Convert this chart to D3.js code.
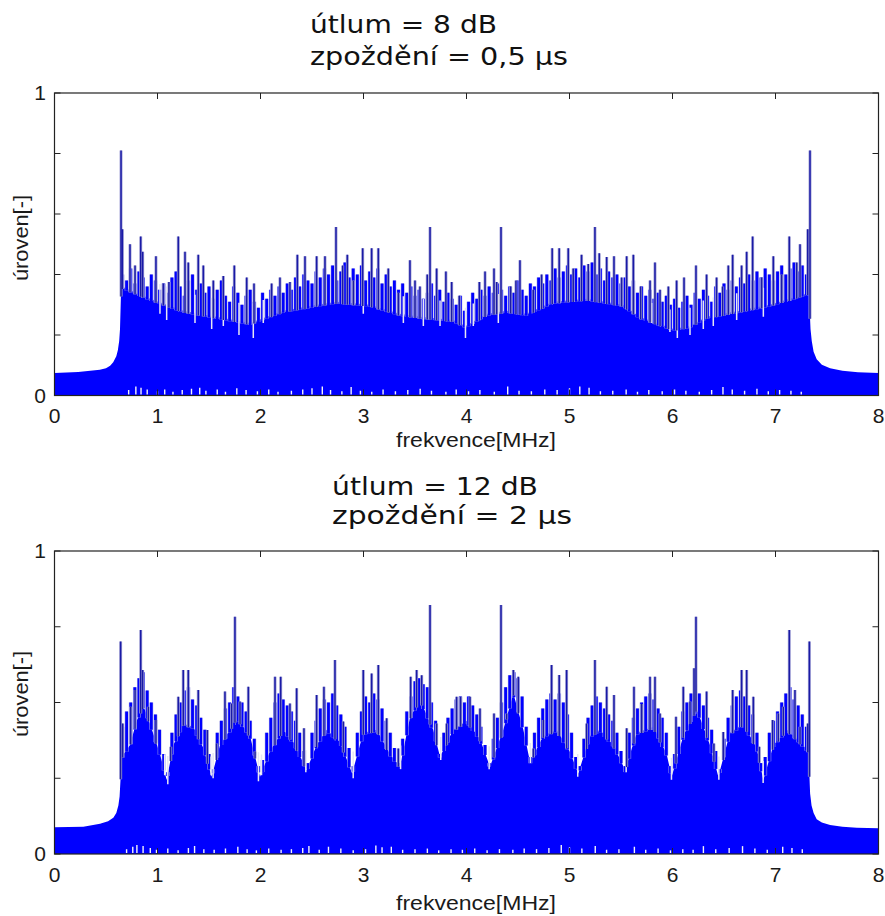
<!DOCTYPE html>
<html>
<head>
<meta charset="utf-8">
<script src="https://cdn.jsdelivr.net/npm/d3@7/dist/d3.min.js"></script>
<style>
  body { margin: 0; background: #fff; }
  svg { display: block; }
  .tl { font-family: "Liberation Sans", Arial, sans-serif; font-size: 21px; fill: #1a1a1a; }
  .lab { font-family: "Liberation Sans", Arial, sans-serif; font-size: 20px; fill: #1a1a1a; }
  .ttl { font-family: "DejaVu Sans", Verdana, sans-serif; font-size: 25px; fill: #111; }
</style>
</head>
<body>
<svg id="chart" width="885" height="916"></svg>
<script>
// ---- top panel: utlum 8 dB, zpozdeni 0.5 us ----
// lower (solid) level of the spectrum
var topEnvF = [0, 0.23, 0.44, 0.5, 0.54, 0.57, 0.6, 0.615, 0.628, 0.636, 0.645, 0.652, 0.93, 1.25, 1.57,
  1.9, 2.22, 2.55, 2.74, 3.06, 3.35, 3.55, 3.87, 3.99, 4.2, 4.39, 4.58, 4.84, 5.17, 5.52, 5.68,
  6.01, 6.17, 6.33, 6.65, 6.94, 7.14, 7.325, 7.34, 7.352, 7.37, 7.4, 7.45, 7.53, 7.65, 7.8, 8];
var topEnvV = [0.074, 0.078, 0.085, 0.09, 0.098, 0.11, 0.13, 0.15, 0.18, 0.22, 0.33, 0.36, 0.32, 0.28, 0.26,
  0.24, 0.28, 0.30, 0.31, 0.30, 0.27, 0.26, 0.25, 0.23, 0.27, 0.28, 0.27, 0.31, 0.32, 0.30, 0.26,
  0.22, 0.23, 0.26, 0.28, 0.30, 0.32, 0.34, 0.22, 0.18, 0.145, 0.12, 0.102, 0.09, 0.082, 0.077, 0.074];

// medium spectral lines, one per 0.04 MHz bin from 0.66 MHz
var topMidV = [0.40, 0.38, 0.42, 0.37, 0.41, 0.39, 0.36, 0.40, 0.38, 0.35,
  0.37, 0.34, 0.39, 0.41, 0.36, 0.33, 0.38, 0.40, 0.35, 0.37,
  0.34, 0.36, 0.32, 0.35, 0.38, 0.33, 0.31, 0.36, 0.34, 0.30,
  0.33, 0.35, 0.31, 0.29, 0.34, 0.32, 0.35, 0.33, 0.36, 0.34,
  0.37, 0.35, 0.39, 0.36, 0.40, 0.38, 0.37, 0.41, 0.39, 0.42,
  0.40, 0.43, 0.38, 0.41, 0.44, 0.39, 0.42, 0.40, 0.43, 0.38,
  0.41, 0.39, 0.42, 0.37, 0.40, 0.36, 0.38, 0.35, 0.37, 0.34,
  0.36, 0.33, 0.35, 0.32, 0.34, 0.37, 0.33, 0.35, 0.31, 0.34,
  0.32, 0.30, 0.33, 0.28, 0.31, 0.34, 0.32, 0.35, 0.33, 0.36,
  0.34, 0.37, 0.35, 0.33, 0.36, 0.34, 0.38, 0.35, 0.33, 0.37,
  0.36, 0.39, 0.37, 0.40, 0.38, 0.42, 0.39, 0.41, 0.43, 0.40,
  0.42, 0.39, 0.43, 0.41, 0.44, 0.40, 0.42, 0.38, 0.41, 0.39,
  0.40, 0.37, 0.39, 0.36, 0.38, 0.34, 0.36, 0.33, 0.35, 0.32,
  0.34, 0.31, 0.33, 0.30, 0.32, 0.29, 0.31, 0.33, 0.30, 0.34,
  0.32, 0.35, 0.33, 0.31, 0.36, 0.34, 0.37, 0.35, 0.38, 0.36,
  0.39, 0.37, 0.40, 0.38, 0.41, 0.39, 0.42, 0.40, 0.38, 0.41,
  0.43, 0.40, 0.42, 0.44, 0.41, 0.43, 0.40];

var topSpikeF = [0.646, 0.659, 0.733, 0.782, 0.837, 0.856, 0.985, 1.056, 1.111, 1.202, 1.267, 1.299,
  1.396, 1.445, 1.542, 1.639, 1.746, 1.866, 1.937, 2.108, 2.189, 2.286, 2.358, 2.432, 2.545, 2.626,
  2.733, 2.798, 2.843, 2.902, 2.992, 3.079, 3.144, 3.241, 3.338, 3.451, 3.5, 3.548, 3.619, 3.646,
  3.71, 3.8, 3.856, 3.93, 4.125, 4.18, 4.267, 4.293, 4.335, 4.429, 4.48, 4.519, 4.648, 4.729,
  4.832, 4.9, 4.988, 5.036, 5.117, 5.182, 5.247, 5.289, 5.361, 5.432, 5.506, 5.555, 5.62, 5.691,
  5.782, 5.83, 5.879, 5.96, 6.04, 6.112, 6.228, 6.331, 6.428, 6.487, 6.542, 6.584, 6.671, 6.72,
  6.778, 6.866, 6.979, 7.06, 7.134, 7.206, 7.238, 7.313, 7.335];
var topSpikeV = [0.81, 0.55, 0.50, 0.43, 0.526, 0.475, 0.46, 0.37, 0.375, 0.526, 0.475, 0.44,
  0.465, 0.43, 0.38, 0.395, 0.43, 0.39, 0.37, 0.37, 0.39, 0.375, 0.465, 0.46, 0.46, 0.46,
  0.557, 0.43, 0.465, 0.38, 0.487, 0.487, 0.487, 0.42, 0.34, 0.447, 0.38, 0.36, 0.40, 0.557,
  0.42, 0.41, 0.375, 0.33, 0.375, 0.41, 0.42, 0.375, 0.557, 0.36, 0.38, 0.447, 0.35, 0.40,
  0.487, 0.487, 0.487, 0.42, 0.465, 0.435, 0.557, 0.47, 0.458, 0.46, 0.39, 0.46, 0.465, 0.36,
  0.38, 0.44, 0.35, 0.36, 0.38, 0.39, 0.43, 0.40, 0.39, 0.36, 0.43, 0.465, 0.43, 0.475,
  0.526, 0.39, 0.46, 0.40, 0.526, 0.44, 0.50, 0.55, 0.81];

var topDipF = [1.024, 1.089, 1.364, 1.526, 1.639, 1.791, 1.93, 2.027, 2.998, 3.387, 3.581, 3.743,
  3.99, 4.066, 4.309, 5.798, 5.975, 6.047, 6.17, 6.299, 6.396, 6.623, 6.882];
var topDipV = [0.27, 0.25, 0.24, 0.22, 0.23, 0.2, 0.19, 0.24, 0.27, 0.24, 0.23, 0.23,
  0.19, 0.23, 0.24, 0.24, 0.21, 0.19, 0.2, 0.22, 0.23, 0.25, 0.26];

var topGapF = [0.72, 0.79, 0.84, 0.9, 1.0, 1.07, 1.15, 1.24, 1.33, 1.41, 1.47, 1.58, 1.66, 1.77, 1.86,
  1.97, 2.08, 2.17, 2.3, 2.41, 2.5, 2.6, 2.68, 2.79, 2.88, 2.97, 3.08, 3.19, 3.31, 3.43, 3.55,
  3.66, 3.8, 3.9, 4.02, 4.13, 4.27, 4.4, 4.51, 4.63, 4.76, 4.88, 5.0, 5.1, 5.19, 5.3, 5.42,
  5.55, 5.66, 5.77, 5.9, 6.02, 6.13, 6.26, 6.38, 6.49, 6.58, 6.7, 6.82, 6.93, 7.04, 7.15, 7.25];
var topGapV = [0.018, 0.03, 0.026, 0.02, 0.014, 0.02, 0.012, 0.018, 0.022, 0.026, 0.016, 0.02, 0.012,
  0.024, 0.018, 0.014, 0.02, 0.012, 0.016, 0.02, 0.024, 0.03, 0.018, 0.014, 0.028, 0.016, 0.012,
  0.02, 0.014, 0.018, 0.022, 0.016, 0.012, 0.02, 0.014, 0.018, 0.012, 0.03, 0.016, 0.014, 0.02,
  0.018, 0.024, 0.03, 0.026, 0.014, 0.016, 0.02, 0.012, 0.018, 0.014, 0.02, 0.016, 0.012, 0.018,
  0.028, 0.02, 0.016, 0.022, 0.014, 0.018, 0.016, 0.012];

// ---- bottom panel: utlum 12 dB, zpozdeni 2 us ----
var botEnvF = [0, 0.28, 0.442, 0.52, 0.571, 0.6, 0.62, 0.632, 0.64, 0.652, 0.733, 0.798, 0.862, 0.927,
  1.024, 1.089, 1.154, 1.25, 1.348, 1.445, 1.526, 1.607, 1.704, 1.769, 1.898, 1.995, 2.092, 2.222,
  2.32, 2.448, 2.545, 2.642, 2.772, 2.89, 2.998, 3.128, 3.257, 3.354, 3.451, 3.548, 3.677, 3.743,
  3.871, 4.0, 4.13, 4.228, 4.357, 4.455, 4.552, 4.617, 4.746, 4.875, 5.0, 5.085, 5.2, 5.296, 5.425,
  5.54, 5.652, 5.814, 5.943, 5.992, 6.105, 6.234, 6.364, 6.445, 6.558, 6.688, 6.817, 6.882, 6.98,
  7.11, 7.207, 7.32, 7.336, 7.35, 7.37, 7.4, 7.45, 7.53, 7.65, 7.79, 8];
var botEnvV = [0.088, 0.09, 0.1, 0.108, 0.12, 0.135, 0.16, 0.19, 0.24, 0.32, 0.36, 0.44, 0.49, 0.43,
  0.33, 0.244, 0.36, 0.43, 0.42, 0.35, 0.255, 0.36, 0.41, 0.45, 0.39, 0.255, 0.34, 0.41, 0.37, 0.277,
  0.36, 0.41, 0.37, 0.266, 0.40, 0.41, 0.33, 0.288, 0.45, 0.51, 0.41, 0.321, 0.41, 0.44, 0.38, 0.288,
  0.41, 0.53, 0.41, 0.304, 0.39, 0.41, 0.34, 0.266, 0.39, 0.41, 0.36, 0.277, 0.40, 0.42, 0.33, 0.255,
  0.39, 0.48, 0.36, 0.255, 0.40, 0.43, 0.35, 0.244, 0.36, 0.41, 0.38, 0.34, 0.2, 0.16, 0.135, 0.115,
  0.104, 0.096, 0.09, 0.087, 0.085];

var botMidV = [0.42, 0.47, 0.50, 0.55, 0.58, 0.60, 0.54, 0.50, 0.46, 0.41,
  0.33, 0.27, 0.40, 0.46, 0.50, 0.54, 0.55, 0.51, 0.49, 0.45,
  0.41, 0.33, 0.28, 0.40, 0.44, 0.48, 0.50, 0.55, 0.52, 0.50,
  0.47, 0.44, 0.38, 0.29, 0.31, 0.40, 0.45, 0.50, 0.53, 0.51,
  0.49, 0.47, 0.44, 0.40, 0.34, 0.30, 0.40, 0.44, 0.48, 0.51,
  0.50, 0.53, 0.49, 0.46, 0.42, 0.35, 0.29, 0.40, 0.47, 0.52,
  0.50, 0.53, 0.51, 0.48, 0.44, 0.40, 0.35, 0.30, 0.38, 0.47,
  0.52, 0.57, 0.58, 0.56, 0.55, 0.50, 0.44, 0.33, 0.40, 0.45,
  0.48, 0.51, 0.52, 0.50, 0.52, 0.49, 0.46, 0.42, 0.36, 0.30,
  0.38, 0.45, 0.50, 0.55, 0.59, 0.60, 0.58, 0.52, 0.42, 0.32,
  0.40, 0.45, 0.48, 0.51, 0.53, 0.51, 0.53, 0.50, 0.46, 0.40,
  0.32, 0.29, 0.38, 0.45, 0.49, 0.52, 0.50, 0.48, 0.46, 0.44,
  0.40, 0.34, 0.29, 0.40, 0.45, 0.48, 0.50, 0.52, 0.53, 0.51,
  0.48, 0.45, 0.40, 0.29, 0.33, 0.42, 0.47, 0.50, 0.53, 0.56,
  0.53, 0.49, 0.45, 0.41, 0.34, 0.28, 0.38, 0.45, 0.49, 0.52,
  0.54, 0.52, 0.49, 0.46, 0.40, 0.30, 0.32, 0.40, 0.44, 0.47,
  0.50, 0.53, 0.55, 0.51, 0.49, 0.46, 0.42];

var botSpikeF = [0.642, 0.662, 0.74, 0.782, 0.837, 0.856, 0.911, 0.985, 1.128, 1.202, 1.25, 1.299,
  1.396, 1.484, 1.574, 1.655, 1.72, 1.752, 1.801, 1.882, 1.947, 2.141, 2.196, 2.286, 2.351, 2.422,
  2.545, 2.616, 2.723, 2.804, 2.998, 3.079, 3.144, 3.225, 3.338, 3.458, 3.516, 3.565, 3.646, 3.71,
  3.807, 3.904, 3.943, 4.034, 4.131, 4.267, 4.335, 4.39, 4.455, 4.503, 4.649, 4.746, 4.826, 4.9,
  4.972, 5.166, 5.247, 5.361, 5.432, 5.555, 5.626, 5.701, 5.782, 5.83, 5.879, 6.034, 6.105, 6.17,
  6.209, 6.228, 6.331, 6.402, 6.493, 6.584, 6.671, 6.72, 6.785, 6.843, 6.972, 7.027, 7.076, 7.134,
  7.189, 7.238, 7.313, 7.329];
var botSpikeV = [0.701, 0.431, 0.486, 0.541, 0.739, 0.607, 0.486, 0.442, 0.354, 0.519, 0.607, 0.607,
  0.541, 0.409, 0.365, 0.536, 0.497, 0.783, 0.503, 0.552, 0.338, 0.585, 0.585, 0.497, 0.547, 0.415,
  0.525, 0.552, 0.64, 0.437, 0.607, 0.596, 0.624, 0.448, 0.348, 0.585, 0.607, 0.59, 0.822, 0.431,
  0.431, 0.519, 0.519, 0.519, 0.48, 0.464, 0.822, 0.464, 0.607, 0.585, 0.348, 0.442, 0.624, 0.591,
  0.607, 0.431, 0.64, 0.552, 0.525, 0.415, 0.552, 0.495, 0.585, 0.585, 0.464, 0.453, 0.552, 0.503,
  0.613, 0.783, 0.536, 0.365, 0.403, 0.541, 0.607, 0.607, 0.519, 0.354, 0.442, 0.464, 0.486, 0.739,
  0.541, 0.42, 0.431, 0.701];

var botDipF = [1.07, 1.1, 1.52, 1.54, 1.98, 2.01, 2.44, 2.9, 3.36, 3.75, 4.22, 4.62, 5.08, 5.55, 5.99, 6.45, 6.88];
var botDipV = [0.26, 0.23, 0.26, 0.25, 0.24, 0.26, 0.27, 0.25, 0.28, 0.31, 0.28, 0.3, 0.255, 0.27, 0.245, 0.245, 0.234];

var botGapF = [0.7, 0.76, 0.8, 0.86, 0.93, 0.99, 1.1, 1.2, 1.3, 1.36, 1.45, 1.55, 1.66, 1.78, 1.87,
  1.96, 2.08, 2.2, 2.3, 2.41, 2.47, 2.57, 2.66, 2.78, 2.9, 3.02, 3.12, 3.18, 3.27, 3.38, 3.5,
  3.62, 3.73, 3.85, 3.96, 4.08, 4.2, 4.32, 4.45, 4.56, 4.68, 4.8, 4.92, 5.0, 5.12, 5.25, 5.36,
  5.48, 5.63, 5.74, 5.86, 5.98, 6.1, 6.2, 6.3, 6.42, 6.55, 6.68, 6.8, 6.92, 7.07, 7.16, 7.26];
var botGapV = [0.016, 0.024, 0.03, 0.026, 0.02, 0.014, 0.018, 0.012, 0.02, 0.026, 0.016, 0.014, 0.018,
  0.024, 0.016, 0.012, 0.018, 0.014, 0.016, 0.02, 0.026, 0.014, 0.024, 0.018, 0.012, 0.016, 0.028,
  0.022, 0.024, 0.014, 0.016, 0.018, 0.012, 0.016, 0.014, 0.018, 0.012, 0.016, 0.014, 0.018, 0.016,
  0.02, 0.03, 0.022, 0.018, 0.026, 0.014, 0.016, 0.024, 0.014, 0.018, 0.012, 0.016, 0.014, 0.026,
  0.016, 0.02, 0.026, 0.018, 0.014, 0.024, 0.02, 0.016];

var midBins = d3.range(0.66, 7.32, 0.04);   // frequency bins of the medium lines
var xTicks = [0, 1, 2, 3, 4, 5, 6, 7, 8];
var topYTicks = [0, 0.2, 0.4, 0.6, 0.8, 1];
var botYTicks = [0, 0.25, 0.5, 0.75, 1];
var yTickLabels = [0, 1];

var panels = [
  { y0: 93, y1: 395.5, envF: topEnvF, envV: topEnvV, midV: topMidV, spF: topSpikeF, spV: topSpikeV,
    dipF: topDipF, dipV: topDipV, gapF: topGapF, gapV: topGapV, yTicks: topYTicks,
    title: ["útlum = 8 dB", "zpoždění = 0,5 µs"], titleW: [187, 258], titleX: 310, titleY: [33, 65],
    tickY: 423, labY: 447, yLabY: 238 },
  { y0: 551, y1: 854, envF: botEnvF, envV: botEnvV, midV: botMidV, spF: botSpikeF, spV: botSpikeV,
    dipF: botDipF, dipV: botDipV, gapF: botGapF, gapV: botGapV, yTicks: botYTicks,
    title: ["útlum = 12 dB", "zpoždění = 2 µs"], titleW: [206, 240], titleX: 332, titleY: [495, 524],
    tickY: 882, labY: 910, yLabY: 694 }
];

var svg = d3.select('#chart');
var xLeft = 54.5, xRight = 878.5;
var x = d3.scaleLinear().domain([0, 8]).range([xLeft, xRight]);

function vLines(sel, cls, data, y0fn, y, stroke, width) {
  sel.selectAll('line.' + cls).data(data).enter().append('line')
    .attr('class', cls)
    .attr('x1', function(d) { return x(d[0]); }).attr('x2', function(d) { return x(d[0]); })
    .attr('y1', y0fn)
    .attr('y2', function(d) { return y(d[1]); })
    .attr('stroke', stroke).attr('stroke-width', width);
}

function drawPanel(p, idx) {
  var y = d3.scaleLinear().domain([0, 1]).range([p.y1, p.y0]);
  // piecewise level of the dense part, used to start spikes and dips
  var level = d3.scaleLinear().domain(p.envF).range(p.envV).clamp(true);
  var base = function(d) { return y(level(d[0])) + 2; };
  var g = svg.append('g');

  g.append('clipPath').attr('id', 'clip' + idx)
    .append('rect').attr('x', xLeft).attr('y', p.y0)
    .attr('width', xRight - xLeft).attr('height', p.y1 - p.y0);
  var plot = g.append('g').attr('clip-path', 'url(#clip' + idx + ')');

  var env = p.envF.map(function(f, i) { return [f, p.envV[i]]; });
  var area = d3.area()
    .x(function(d) { return x(d[0]); })
    .y0(y(0))
    .y1(function(d) { return y(d[1]); });
  plot.append('path').datum(env).attr('d', area).attr('fill', '#0000ff');

  var mids = midBins.slice(0, p.midV.length).map(function(f, i) { return [f, p.midV[i]]; });
  vLines(plot, 'midh', mids, base, y, '#a8a8e2', 3.8);
  vLines(plot, 'mid', mids, base, y, '#0000ff', 2.8);

  var dips = p.dipF.map(function(f, i) { return [f, p.dipV[i]]; });
  vLines(plot, 'dip', dips, function(d) { return y(level(d[0]) + 0.06); }, y, '#e6e6f3', 1.5);

  var spikes = p.spF.map(function(f, i) { return [f, p.spV[i]]; });
  vLines(plot, 'halo', spikes, base, y, '#a4a4d6', 3);
  vLines(plot, 'spike', spikes, base, y, '#1a1aa6', 1.5);

  var gaps = p.gapF.map(function(f, i) { return [f, p.gapV[i]]; });
  vLines(plot, 'gap', gaps, y(0) - 1, y, '#f4f4f8', 1.4);

  // box
  g.append('rect').attr('x', xLeft).attr('y', p.y0)
    .attr('width', xRight - xLeft).attr('height', p.y1 - p.y0)
    .attr('fill', 'none').attr('stroke', '#222').attr('stroke-width', 1.2);

  // inward ticks on all four sides
  var tl = 6;
  xTicks.forEach(function(t) {
    g.append('line').attr('x1', x(t)).attr('x2', x(t)).attr('y1', p.y1).attr('y2', p.y1 - tl)
      .attr('stroke', '#222');
    g.append('line').attr('x1', x(t)).attr('x2', x(t)).attr('y1', p.y0).attr('y2', p.y0 + tl)
      .attr('stroke', '#222');
    g.append('text').attr('class', 'tl').attr('x', x(t)).attr('y', p.tickY)
      .attr('text-anchor', 'middle').text(t);
  });
  p.yTicks.forEach(function(t) {
    g.append('line').attr('x1', xLeft).attr('x2', xLeft + tl).attr('y1', y(t)).attr('y2', y(t))
      .attr('stroke', '#222');
    g.append('line').attr('x1', xRight).attr('x2', xRight - tl).attr('y1', y(t)).attr('y2', y(t))
      .attr('stroke', '#222');
  });
  yTickLabels.forEach(function(t) {
    g.append('text').attr('class', 'tl').attr('x', 46).attr('y', y(t) + 7)
      .attr('text-anchor', 'end').text(t);
  });

  g.append('text').attr('class', 'lab').attr('x', 476).attr('y', p.labY)
    .attr('text-anchor', 'middle')
    .attr('textLength', 160).attr('lengthAdjust', 'spacingAndGlyphs')
    .text('frekvence[MHz]');
  g.append('text').attr('class', 'lab')
    .attr('transform', 'translate(28,' + p.yLabY + ') rotate(-90)')
    .attr('text-anchor', 'middle')
    .attr('textLength', 86).attr('lengthAdjust', 'spacingAndGlyphs')
    .text('úroven[-]');

  p.title.forEach(function(s, i) {
    g.append('text').attr('class', 'ttl').attr('x', p.titleX).attr('y', p.titleY[i])
      .attr('textLength', p.titleW[i]).attr('lengthAdjust', 'spacingAndGlyphs')
      .text(s);
  });
}

panels.forEach(drawPanel);
</script>
</body>
</html>
